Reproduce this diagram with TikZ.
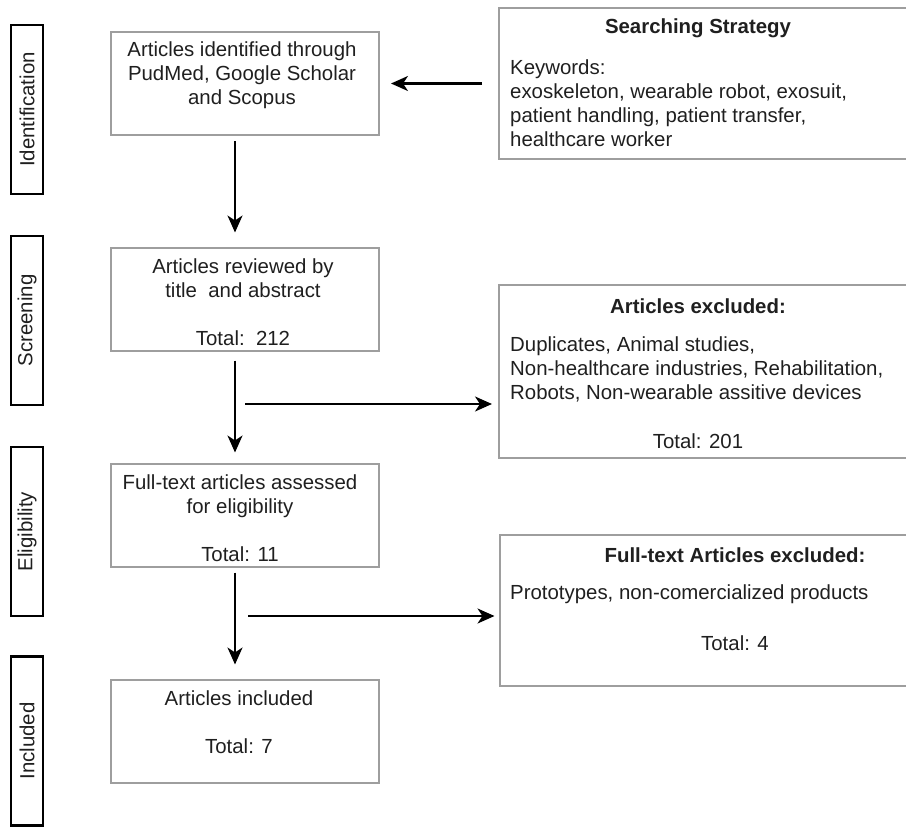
\documentclass[tikz,border=0pt]{standalone}
\usepackage{fontspec}
\setmainfont{Liberation Sans}
\usetikzlibrary{arrows.meta}
\definecolor{boxgray}{rgb}{0.62,0.62,0.62}

\begin{document}
\begin{tikzpicture}[x=1pt,y=-1pt,
			every node/.style={font=\fontsize{20.4}{24}\selectfont, text=black!88, inner sep=0pt},
			stagebox/.style={draw=black, line width=2.6pt, rotate=90, minimum width=169pt, minimum height=32pt},
			flowbox/.style={draw=boxgray, line width=2pt, minimum width=268pt, minimum height=103pt},
			sidebox/.style={draw=boxgray, line width=2pt, minimum width=412pt},
			flow/.style={line width=2.2pt, -{Stealth[length=17pt,width=15pt,inset=5pt]}}
		]
			\useasboundingbox (0,0) rectangle (906,827);
			% Stages on the left
			\node[stagebox] (identification) at (27,109.5) {Identification};
			\node[stagebox] (screening) at (27,320.5) {Screening};
			\node[stagebox] (eligibility) at (27,531.5) {Eligibility};
			\node[stagebox] (included) at (27,741) {Included};
			
			% Main column
			\node[flowbox] (found) at (245,83.5) {};
			\node[align=center] (foundtext) at (242,75) {Articles identified through\\PudMed, Google Scholar\\and Scopus};
			\node[flowbox] (reviewed) at (245,299) {};
			\node[align=center] (reviewedtext) at (243,302.5) {Articles reviewed by\\title\ \ and abstract\\[24pt]Total:\ \ 212};
			\node[flowbox] (assessed) at (245,515) {};
			\node[align=center] (assessedtext) at (240,518.5) {Full-text articles assessed\\for eligibility\\[24pt]Total: 11};
			\node[flowbox] (kept) at (245,731) {};
			\node[align=center] (kepttext) at (239,722.5) {Articles included\\[24pt]Total: 7};
			
			% Boxes on the right
			\node[sidebox, minimum height=151pt] (search) at (705,83.5) {};
			\node[font=\fontsize{20.4}{24}\selectfont\bfseries] (searchtitle) at (698,28) {Searching Strategy};
			\node[align=left, anchor=west] (searchtext) at (510,103.5) {Keywords:\\exoskeleton, wearable robot, exosuit,\\patient handling, patient transfer,\\healthcare worker};
			\node[sidebox, minimum height=173pt] (excluded) at (705,371.5) {};
			\node[font=\fontsize{20.4}{24}\selectfont\bfseries] (excludedtitle) at (698,306) {Articles excluded:};
			\node[align=left, anchor=west] (excludedtext) at (510,369) {Duplicates, Animal studies,\\Non-healthcare industries, Rehabilitation,\\Robots, Non-wearable assitive devices};
			\node (excludedtotal) at (698,441) {Total: 201};
			\node[sidebox, minimum height=151pt] (fulltext) at (705.5,610.5) {};
			\node[font=\fontsize{20.4}{24}\selectfont\bfseries] (fulltexttitle) at (735,555) {Full-text Articles excluded:};
			\node[anchor=west] (fulltexttext) at (510,594) {Prototypes, non-comercialized products};
			\node (fulltexttotal) at (735,643) {Total: 4};
			
			% Arrows
			\draw[flow, shorten <=16pt, shorten >=11pt] (search.west) -- (found.east);
			\draw[flow, shorten <=5pt, shorten >=14pt] ([xshift=-10pt]found.south) -- ([xshift=-10pt]reviewed.north);
			\draw[flow, shorten <=9pt, shorten >=10pt] ([xshift=-10pt]reviewed.south) -- ([xshift=-10pt]assessed.north);
			\draw[flow, shorten <=5pt, shorten >=14pt] ([xshift=-10pt]assessed.south) -- ([xshift=-10pt]kept.north);
			\coordinate (split1) at (245,404);
			\coordinate (split2) at (248,616);
			\draw[flow, shorten >=6pt] (split1) -- (split1 -| excluded.west);
			\draw[flow, shorten >=4pt] (split2) -- (split2 -| fulltext.west);
		\end{tikzpicture}
\end{document}
